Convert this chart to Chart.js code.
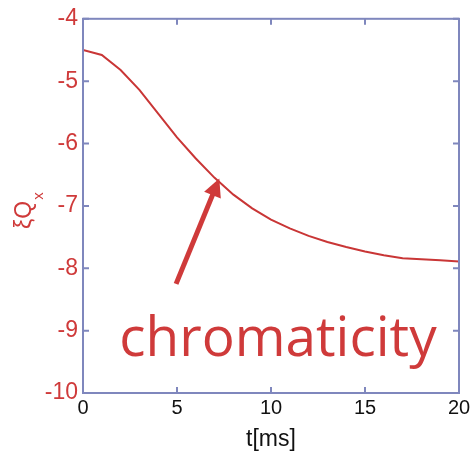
<!DOCTYPE html>
<html>
<head>
<meta charset="utf-8">
<script src="https://cdn.jsdelivr.net/npm/chart.js@4"></script>
<style>
  html, body { margin: 0; padding: 0; background: #fff; }
  canvas { display: block; }
</style>
</head>
<body>
<canvas id="graphe" width="475" height="455"></canvas>
<script>
// temps en ms (abscisse)
const tms = [0, 1, 2, 3, 4, 5, 6, 7, 8, 9, 10, 11, 12, 13, 14, 15, 16, 17, 18, 19, 20];
// chromaticite xi Q_x (ordonnee)
const xiQx = [-4.50, -4.58, -4.82, -5.14, -5.52, -5.90, -6.24, -6.55, -6.82, -7.04, -7.22,
              -7.36, -7.48, -7.58, -7.66, -7.73, -7.79, -7.84, -7.855, -7.87, -7.89];
const xTicks = [0, 5, 10, 15, 20];
const yTicks = [-4, -5, -6, -7, -8, -9, -10];
// annotation (fleche + texte) en coordonnees des donnees
const flecheDe = [4.95, -8.25];
const flecheA = [7.25, -6.56];
const texteAnnot = "chromaticity";
const texteAt = [1.93, -9.4];
const texteFin = 18.8; // fin du texte (en ms)

const rouge = "#cf3a3a";
const bleuAxe = "#7f87bd";

// cadre + graduations vers l'interieur, titre y, fleche et texte
const decor = {
  id: "decor",
  afterDatasetsDraw(chart) {
    const ctx = chart.ctx;
    const a = chart.chartArea;
    const sx = chart.scales.x, sy = chart.scales.y;
    ctx.save();
    ctx.strokeStyle = bleuAxe;
    ctx.lineWidth = 2;
    ctx.strokeRect(a.left, a.top, a.right - a.left, a.bottom - a.top);
    ctx.beginPath();
    xTicks.forEach(v => {
      const px = sx.getPixelForValue(v);
      ctx.moveTo(px, a.bottom); ctx.lineTo(px, a.bottom - 6);
      ctx.moveTo(px, a.top); ctx.lineTo(px, a.top + 6);
    });
    yTicks.forEach(v => {
      const py = sy.getPixelForValue(v);
      ctx.moveTo(a.left, py); ctx.lineTo(a.left + 6, py);
      ctx.moveTo(a.right, py); ctx.lineTo(a.right - 6, py);
    });
    ctx.stroke();

    // titre de l'axe y : xi Q_x
    ctx.fillStyle = rouge;
    ctx.translate(31, 229);
    ctx.rotate(-Math.PI / 2);
    ctx.font = "23px 'Liberation Sans', Arial, sans-serif";
    ctx.textAlign = "left";
    ctx.textBaseline = "alphabetic";
    ctx.fillText("ξQ", 0, 0);
    const w = ctx.measureText("ξQ").width;
    ctx.font = "15px 'Liberation Sans', Arial, sans-serif";
    ctx.fillText("x", w + 1, 12);
    ctx.setTransform(1, 0, 0, 1, 0, 0);

    // fleche
    const x0 = sx.getPixelForValue(flecheDe[0]), y0 = sy.getPixelForValue(flecheDe[1]);
    const x1 = sx.getPixelForValue(flecheA[0]), y1 = sy.getPixelForValue(flecheA[1]);
    const ang = Math.atan2(y1 - y0, x1 - x0);
    const lt = 18, lw = 9;
    const bx = x1 - lt * Math.cos(ang), by = y1 - lt * Math.sin(ang);
    ctx.strokeStyle = rouge;
    ctx.lineWidth = 5;
    ctx.beginPath();
    ctx.moveTo(x0, y0);
    ctx.lineTo(bx + 3 * Math.cos(ang), by + 3 * Math.sin(ang));
    ctx.stroke();
    ctx.fillStyle = rouge;
    ctx.beginPath();
    ctx.moveTo(x1, y1);
    ctx.lineTo(bx + lw * Math.sin(ang), by - lw * Math.cos(ang));
    ctx.lineTo(bx - lw * Math.sin(ang), by + lw * Math.cos(ang));
    ctx.closePath();
    ctx.fill();

    // texte, ajuste a la largeur voulue
    const tx = sx.getPixelForValue(texteAt[0]);
    const largeur = sx.getPixelForValue(texteFin) - tx;
    ctx.font = "50px 'Open Sans', Roboto, sans-serif";
    const taille = 50 * largeur / ctx.measureText(texteAnnot).width;
    ctx.font = taille.toFixed(1) + "px 'Open Sans', Roboto, sans-serif";
    ctx.textAlign = "left";
    ctx.textBaseline = "alphabetic";
    ctx.fillText(texteAnnot, tx, sy.getPixelForValue(texteAt[1]));
    ctx.restore();
  }
};

new Chart(document.getElementById("graphe"), {
  type: "line",
  data: {
    datasets: [{
      data: tms.map((t, i) => ({ x: t, y: xiQx[i] })),
      borderColor: "#c93636",
      borderWidth: 2,
      pointRadius: 0,
      fill: false,
      tension: 0
    }]
  },
  options: {
    responsive: false,
    animation: false,
    devicePixelRatio: 1,
    layout: { padding: { top: 17, right: 16, left: 0, bottom: 0 } },
    plugins: { legend: { display: false }, tooltip: { enabled: false } },
    scales: {
      x: {
        type: "linear",
        min: 0, max: 20,
        afterBuildTicks: s => { s.ticks = xTicks.map(v => ({ value: v })); },
        afterFit: s => { s.height = 62; },
        grid: { display: false, drawTicks: false },
        border: { display: false },
        ticks: { color: "#111", font: { family: "'Liberation Sans', Arial", size: 20 }, padding: 3, maxRotation: 0 },
        title: { display: true, text: "t[ms]", color: "#111", font: { family: "'Liberation Sans', Arial", size: 23 }, padding: { top: 0, bottom: 2 } }
      },
      y: {
        min: -10, max: -4,
        afterBuildTicks: s => { s.ticks = yTicks.map(v => ({ value: v })); },
        afterFit: s => { s.width = 83; },
        grid: { display: false, drawTicks: false },
        border: { display: false },
        ticks: { color: rouge, font: { family: "'Liberation Sans', Arial", size: 23 }, padding: 5 }
      }
    }
  },
  plugins: [decor]
});
</script>
</body>
</html>
